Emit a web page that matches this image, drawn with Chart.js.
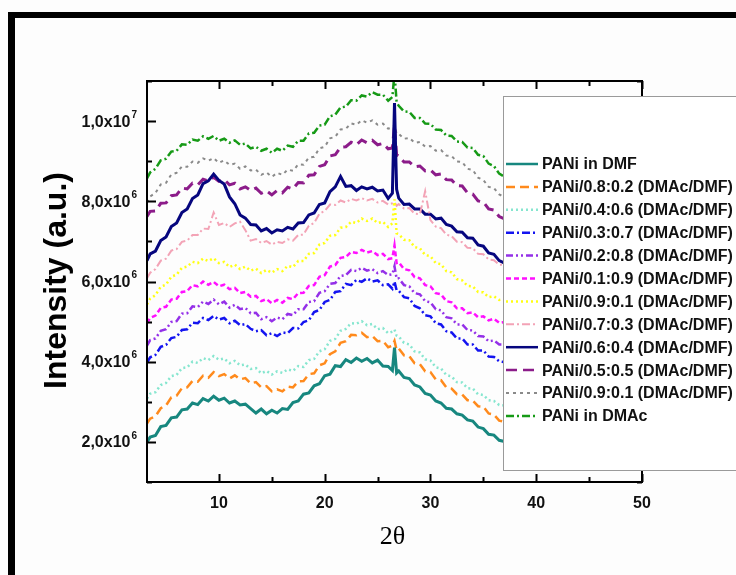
<!DOCTYPE html>
<html>
<head>
<meta charset="utf-8">
<script src="https://cdn.jsdelivr.net/npm/chart.js@4.4.1/dist/chart.umd.min.js"></script>
<style>
  html, body { margin: 0; padding: 0; background: #fff; }
  #c { display: block; }
</style>
</head>
<body>
<canvas id="c" width="736" height="575"></canvas>
<script>
// Diffraction angle 2θ (degrees)
const twoTheta = [
  3.2, 3.5, 4, 4.5, 5, 5.5, 6, 6.5, 7, 7.5,
  8, 8.5, 9, 9.5, 10, 10.5, 11, 11.5, 12, 12.5,
  13, 13.5, 14, 14.5, 15, 15.5, 16, 16.5, 17, 17.5,
  18, 18.5, 19, 19.5, 20, 20.5, 21, 21.5, 22, 22.5,
  23, 23.5, 24, 24.5, 25, 25.5, 26, 26.4, 26.6, 26.8,
  27, 27.5, 28, 28.5, 29, 29.5, 30, 30.5, 31, 31.5,
  32, 32.5, 33, 33.5, 34, 34.5, 35, 35.5, 36, 36.5,
  37
];

// Intensities, in units of 10^6 a.u.
const panDMF = [
  2.00, 2.12, 2.16, 2.38, 2.41, 2.60, 2.62, 2.80, 2.82, 2.97,
  2.93, 3.08, 3.02, 3.14, 3.04, 3.09, 2.97, 3.02, 2.92, 2.94,
  2.83, 2.72, 2.82, 2.70, 2.79, 2.72, 2.83, 2.81, 2.98, 3.02,
  3.19, 3.22, 3.40, 3.45, 3.65, 3.69, 3.90, 3.88, 4.05, 3.98,
  4.09, 4.01, 4.08, 3.97, 4.04, 3.89, 3.88, 3.78, 4.35, 3.72,
  3.77, 3.61, 3.58, 3.42, 3.37, 3.21, 3.17, 3.02, 2.97, 2.84,
  2.82, 2.70, 2.67, 2.55, 2.52, 2.37, 2.33, 2.19, 2.17, 2.04,
  2.01
];
const pan0802 = [
  2.46, 2.58, 2.64, 2.84, 2.91, 3.11, 3.15, 3.34, 3.36, 3.52,
  3.50, 3.65, 3.60, 3.74, 3.64, 3.69, 3.58, 3.66, 3.56, 3.59,
  3.46, 3.49, 3.36, 3.39, 3.26, 3.31, 3.26, 3.38, 3.36, 3.51,
  3.52, 3.69, 3.71, 3.91, 3.96, 4.19, 4.26, 4.47, 4.51, 4.67,
  4.66, 4.72, 4.61, 4.64, 4.51, 4.52, 4.36, 4.40, 4.52, 4.29,
  4.33, 4.16, 4.14, 3.96, 3.94, 3.76, 3.74, 3.56, 3.54, 3.36,
  3.33, 3.19, 3.18, 3.04, 3.03, 2.89, 2.88, 2.71, 2.68, 2.53,
  2.50
];
const pan0406 = [
  3.08, 3.20, 3.24, 3.42, 3.47, 3.64, 3.67, 3.84, 3.86, 4.00,
  3.97, 4.09, 4.04, 4.14, 4.05, 4.08, 3.96, 4.02, 3.91, 3.93,
  3.82, 3.84, 3.71, 3.77, 3.68, 3.76, 3.72, 3.81, 3.77, 3.89,
  3.87, 4.04, 4.07, 4.26, 4.31, 4.52, 4.57, 4.77, 4.82, 4.96,
  4.95, 5.01, 4.91, 4.94, 4.81, 4.84, 4.71, 4.75, 4.80, 4.65,
  4.63, 4.47, 4.43, 4.26, 4.23, 4.06, 4.03, 3.86, 3.83, 3.67,
  3.63, 3.49, 3.48, 3.34, 3.33, 3.19, 3.17, 3.04, 3.02, 2.92,
  2.91
];
const pan0307 = [
  3.98, 4.11, 4.17, 4.37, 4.42, 4.59, 4.62, 4.79, 4.81, 4.97,
  4.96, 5.09, 5.04, 5.14, 5.05, 5.09, 4.96, 5.02, 4.91, 4.94,
  4.82, 4.76, 4.79, 4.66, 4.71, 4.64, 4.73, 4.71, 4.84, 4.83,
  4.99, 5.03, 5.24, 5.29, 5.49, 5.54, 5.74, 5.76, 5.94, 5.91,
  6.04, 5.99, 6.08, 6.00, 6.03, 5.91, 5.93, 5.82, 6.00, 5.78,
  5.77, 5.61, 5.58, 5.39, 5.33, 5.16, 5.13, 4.96, 4.93, 4.76,
  4.73, 4.58, 4.58, 4.43, 4.43, 4.28, 4.28, 4.13, 4.12, 4.01,
  3.99
];
const pan0208 = [
  4.40, 4.54, 4.58, 4.77, 4.81, 4.99, 5.01, 5.20, 5.21, 5.38,
  5.36, 5.50, 5.44, 5.55, 5.43, 5.50, 5.35, 5.42, 5.31, 5.34,
  5.21, 5.22, 5.06, 5.11, 5.01, 5.10, 5.06, 5.19, 5.16, 5.31,
  5.31, 5.49, 5.51, 5.72, 5.76, 5.94, 5.96, 6.14, 6.16, 6.29,
  6.26, 6.34, 6.27, 6.31, 6.21, 6.26, 6.16, 6.18, 6.38, 6.07,
  6.08, 5.91, 5.88, 5.71, 5.68, 5.51, 5.48, 5.31, 5.28, 5.11,
  5.08, 4.93, 4.93, 4.79, 4.78, 4.64, 4.63, 4.51, 4.53, 4.43,
  4.43
];
const pan0109 = [
  4.96, 5.09, 5.15, 5.34, 5.37, 5.55, 5.57, 5.74, 5.76, 5.91,
  5.88, 6.00, 5.92, 5.99, 5.88, 5.92, 5.81, 5.84, 5.71, 5.74,
  5.62, 5.64, 5.51, 5.56, 5.46, 5.54, 5.47, 5.59, 5.56, 5.71,
  5.72, 5.89, 5.91, 6.12, 6.16, 6.37, 6.41, 6.59, 6.61, 6.74,
  6.71, 6.79, 6.72, 6.76, 6.66, 6.69, 6.56, 6.58, 6.90, 6.46,
  6.48, 6.31, 6.28, 6.11, 6.08, 5.91, 5.88, 5.71, 5.68, 5.51,
  5.48, 5.33, 5.33, 5.21, 5.23, 5.11, 5.13, 5.03, 5.07, 4.97,
  4.99
];
const pan0901a = [
  5.43, 5.57, 5.66, 5.87, 5.92, 6.12, 6.17, 6.34, 6.37, 6.49,
  6.46, 6.57, 6.51, 6.58, 6.46, 6.49, 6.36, 6.42, 6.31, 6.37,
  6.27, 6.32, 6.21, 6.29, 6.22, 6.31, 6.26, 6.39, 6.36, 6.51,
  6.51, 6.69, 6.71, 6.92, 6.96, 7.14, 7.16, 7.34, 7.36, 7.49,
  7.46, 7.57, 7.51, 7.57, 7.46, 7.49, 7.36, 7.45, 8.05, 7.20,
  7.18, 7.04, 7.03, 6.86, 6.83, 6.66, 6.63, 6.46, 6.43, 6.26,
  6.23, 6.06, 6.03, 5.89, 5.88, 5.74, 5.73, 5.61, 5.63, 5.54,
  5.56
];
const pan0703 = [
  6.08, 6.22, 6.31, 6.52, 6.57, 6.77, 6.81, 6.99, 7.02, 7.16,
  7.16, 7.32, 7.31, 7.72, 7.41, 7.46, 7.36, 7.45, 7.49, 7.28,
  7.02, 7.06, 6.96, 7.01, 6.92, 6.99, 6.96, 7.05, 7.02, 7.16,
  7.17, 7.39, 7.46, 7.69, 7.76, 7.92, 7.91, 8.02, 7.97, 8.06,
  8.02, 8.08, 8.02, 8.06, 7.97, 8.01, 7.92, 7.95, 7.98, 7.89,
  7.93, 7.82, 7.83, 7.69, 7.68, 8.25, 7.53, 7.37, 7.33, 7.17,
  7.13, 6.99, 6.98, 6.84, 6.83, 6.69, 6.68, 6.55, 6.53, 6.42,
  6.41
];
const pan0604 = [
  6.52, 6.69, 6.76, 7.02, 7.11, 7.37, 7.46, 7.72, 7.81, 8.07,
  8.16, 8.44, 8.51, 8.68, 8.52, 8.43, 8.11, 7.94, 7.66, 7.58,
  7.42, 7.41, 7.26, 7.32, 7.21, 7.29, 7.26, 7.35, 7.31, 7.46,
  7.47, 7.66, 7.71, 7.92, 7.96, 8.24, 8.36, 8.62, 8.37, 8.39,
  8.27, 8.36, 8.31, 8.35, 8.26, 8.28, 8.07, 8.20, 10.45, 8.30,
  8.08, 7.92, 7.93, 7.81, 7.81, 7.68, 7.68, 7.56, 7.58, 7.42,
  7.38, 7.24, 7.23, 7.09, 7.08, 6.91, 6.88, 6.71, 6.68, 6.52,
  6.46
];
const pan0505 = [
  7.62, 7.75, 7.76, 7.95, 7.96, 8.14, 8.16, 8.33, 8.31, 8.45,
  8.41, 8.55, 8.51, 8.60, 8.50, 8.54, 8.41, 8.45, 8.31, 8.36,
  8.27, 8.33, 8.20, 8.26, 8.16, 8.27, 8.21, 8.35, 8.31, 8.47,
  8.46, 8.65, 8.66, 8.87, 8.91, 9.13, 9.16, 9.35, 9.36, 9.47,
  9.41, 9.53, 9.46, 9.52, 9.41, 9.44, 9.31, 9.33, 9.90, 9.16,
  9.13, 8.98, 8.98, 8.86, 8.88, 8.76, 8.78, 8.66, 8.68, 8.54,
  8.53, 8.39, 8.38, 8.21, 8.18, 8.01, 7.98, 7.81, 7.78, 7.62,
  7.56
];
const pan0901b = [
  7.97, 8.12, 8.21, 8.42, 8.46, 8.67, 8.71, 8.87, 8.86, 8.99,
  8.96, 9.07, 9.01, 9.08, 8.96, 9.02, 8.91, 8.94, 8.81, 8.87,
  8.77, 8.79, 8.66, 8.72, 8.61, 8.71, 8.66, 8.79, 8.76, 8.92,
  8.91, 9.09, 9.11, 9.32, 9.36, 9.57, 9.61, 9.79, 9.81, 9.94,
  9.91, 10.02, 9.96, 10.02, 9.91, 9.94, 9.81, 9.84, 9.90, 9.68,
  9.68, 9.56, 9.58, 9.46, 9.48, 9.36, 9.38, 9.26, 9.28, 9.14,
  9.13, 8.99, 8.98, 8.81, 8.78, 8.59, 8.53, 8.36, 8.33, 8.17,
  8.11
];
const panDMAc = [
  8.57, 8.72, 8.81, 9.02, 9.06, 9.24, 9.26, 9.42, 9.41, 9.54,
  9.51, 9.62, 9.56, 9.63, 9.51, 9.56, 9.46, 9.52, 9.41, 9.44,
  9.32, 9.36, 9.26, 9.31, 9.21, 9.31, 9.26, 9.39, 9.36, 9.51,
  9.51, 9.69, 9.71, 9.89, 9.91, 10.12, 10.16, 10.34, 10.36, 10.52,
  10.51, 10.64, 10.61, 10.72, 10.66, 10.66, 10.51, 10.60, 11.20, 10.47,
  10.38, 10.24, 10.23, 10.08, 10.08, 9.94, 9.93, 9.79, 9.78, 9.64,
  9.63, 9.49, 9.48, 9.34, 9.33, 9.16, 9.13, 8.94, 8.88, 8.69,
  8.61
];

const seriesLabels = [
  'PANi in DMF',
  'PANi/0.8:0.2 (DMAc/DMF)',
  'PANi/0.4:0.6 (DMAc/DMF)',
  'PANi/0.3:0.7 (DMAc/DMF)',
  'PANi/0.2:0.8 (DMAc/DMF)',
  'PANi/0.1:0.9 (DMAc/DMF)',
  'PANi/0.9:0.1 (DMAc/DMF)',
  'PANi/0.7:0.3 (DMAc/DMF)',
  'PANi/0.6:0.4 (DMAc/DMF)',
  'PANi/0.5:0.5 (DMAc/DMF)',
  'PANi/0.9:0.1 (DMAc/DMF)',
  'PANi in DMAc'
];
const seriesValues = [panDMF, pan0802, pan0406, pan0307, pan0208, pan0109,
                      pan0901a, pan0703, pan0604, pan0505, pan0901b, panDMAc];

// Axis ranges and labelled ticks
const xRange = [3.2, 50];
const yRange = [1e6, 1.1e7];
const xLabelTicks = [10, 20, 30, 40, 50];
const yLabelTicks = [2e6, 4e6, 6e6, 8e6, 1e7];

// Line appearance for each sample
const lineStyles = [
  { color: '#17877f', width: 3,   dash: [] },
  { color: '#ff8a1c', width: 2.5, dash: [9, 5] },
  { color: '#86e6cf', width: 2.5, dash: [2, 3] },
  { color: '#1414f0', width: 2.5, dash: [8, 3, 2, 3] },
  { color: '#9430e8', width: 2.5, dash: [7, 3, 2, 3, 2, 3] },
  { color: '#ff10ff', width: 2.5, dash: [5, 3] },
  { color: '#ffff14', width: 2.5, dash: [2, 3] },
  { color: '#f3a3b6', width: 2,   dash: [8, 3, 2, 3] },
  { color: '#06067e', width: 3,   dash: [] },
  { color: '#8c1c8a', width: 3,   dash: [11, 6] },
  { color: '#8a8a8a', width: 2,   dash: [3, 4] },
  { color: '#169a16', width: 2.5, dash: [8, 3, 2, 3] }
];

const datasets = seriesValues.map((vals, i) => ({
  label: seriesLabels[i],
  data: vals.map((v, k) => ({ x: twoTheta[k], y: v * 1e6 })),
  borderColor: lineStyles[i].color,
  backgroundColor: lineStyles[i].color,
  borderWidth: lineStyles[i].width,
  borderDash: lineStyles[i].dash,
  pointRadius: 0,
  tension: 0,
  fill: false
}));

const SANS = '"Liberation Sans", Arial, sans-serif';

// Frame, axes box, inward ticks, tick labels, axis titles and the legend box
const decor = {
  id: 'decor',
  beforeDraw(chart) {
    const ctx = chart.ctx;
    ctx.save();
    ctx.fillStyle = '#fdfdfd';
    ctx.fillRect(0, 0, chart.width, chart.height);
    ctx.restore();
  },
  afterDatasetsDraw(chart) {
    const { ctx, chartArea: a, scales: { x, y } } = chart;
    ctx.save();
    ctx.strokeStyle = '#000';
    ctx.lineWidth = 2;
    ctx.strokeRect(a.left, a.top, a.right - a.left, a.bottom - a.top);

    // x ticks, bottom and top
    ctx.lineWidth = 2;
    x.ticks.forEach(t => {
      if (Math.abs(t.value % 5) > 1e-9) return;
      const px = Math.round(x.getPixelForValue(t.value)) + 0.5;
      const major = Math.abs(t.value % 10) < 1e-9;
      const len = major ? 8 : 5;
      ctx.beginPath();
      ctx.moveTo(px, a.bottom); ctx.lineTo(px, a.bottom - len);
      ctx.moveTo(px, a.top); ctx.lineTo(px, a.top + len);
      ctx.stroke();
    });
    // y ticks, left and right
    y.ticks.forEach(t => {
      const m = Math.round(t.value / 1e6);
      if (Math.abs(t.value / 1e6 - m) > 1e-6) return;
      const py = Math.round(y.getPixelForValue(t.value)) + 0.5;
      const len = m % 2 === 0 ? 9 : 5;
      ctx.beginPath();
      ctx.moveTo(a.left, py); ctx.lineTo(a.left + len, py);
      ctx.moveTo(a.right, py); ctx.lineTo(a.right - len, py);
      ctx.stroke();
    });

    // x tick labels
    ctx.fillStyle = '#111';
    ctx.font = 'bold 16px ' + SANS;
    ctx.textAlign = 'center';
    ctx.textBaseline = 'middle';
    xLabelTicks.forEach(v => {
      ctx.fillText(String(v), x.getPixelForValue(v), a.bottom + 22);
    });

    // y tick labels: mantissa with a raised exponent
    yLabelTicks.forEach(v => {
      const exp = Math.floor(Math.log10(v) + 1e-9);
      const mant = (v / Math.pow(10, exp)).toFixed(1).replace('.', ',');
      const main = mant + 'x10';
      const py = y.getPixelForValue(v);
      ctx.font = 'bold 10px ' + SANS;
      const we = ctx.measureText(String(exp)).width;
      ctx.font = 'bold 16px ' + SANS;
      const wm = ctx.measureText(main).width;
      const right = a.left - 10;
      ctx.textAlign = 'left';
      ctx.textBaseline = 'middle';
      ctx.fillText(main, right - we - 1 - wm, py + 1);
      ctx.font = 'bold 10px ' + SANS;
      ctx.fillText(String(exp), right - we, py - 6);
    });

    // axis titles
    ctx.fillStyle = '#000';
    ctx.save();
    ctx.translate(57, (a.top + a.bottom) / 2 - 1);
    ctx.rotate(-Math.PI / 2);
    ctx.font = 'bold 32px ' + SANS;
    ctx.textAlign = 'center';
    ctx.textBaseline = 'middle';
    ctx.fillText('Intensity (a.u.)', 0, 0);
    ctx.restore();

    ctx.font = '26px "Liberation Serif", "Times New Roman", serif';
    ctx.textAlign = 'center';
    ctx.textBaseline = 'middle';
    ctx.fillText('2\u03B8', (a.left + a.right) / 2 - 2, a.bottom + 55);
    ctx.restore();
  },
  afterDraw(chart) {
    const ctx = chart.ctx;
    ctx.save();
    // legend box
    const bx = 503.5, by = 96.5, bw = 300, bh = 374;
    ctx.fillStyle = '#ffffff';
    ctx.fillRect(bx, by, bw, bh);
    ctx.strokeStyle = '#9a9a9a';
    ctx.lineWidth = 1;
    ctx.strokeRect(bx, by, bw, bh);

    chart.data.datasets.forEach((ds, i) => {
      const ly = 164 + i * 22.9;
      ctx.save();
      ctx.strokeStyle = ds.borderColor;
      ctx.lineWidth = Math.min(ds.borderWidth, 2.5);
      ctx.setLineDash(ds.borderDash || []);
      ctx.beginPath();
      ctx.moveTo(506, ly);
      ctx.lineTo(538, ly);
      ctx.stroke();
      ctx.restore();
      ctx.fillStyle = '#111';
      ctx.font = 'bold 16px ' + SANS;
      ctx.textAlign = 'left';
      ctx.textBaseline = 'middle';
      ctx.fillText(ds.label, 542, ly + 1);
    });

    // outer frame
    ctx.fillStyle = '#000';
    ctx.fillRect(8, 12, chart.width, 6);
    ctx.fillRect(8, 12, 7, chart.height);
    ctx.restore();
  }
};

new Chart(document.getElementById('c'), {
  type: 'line',
  data: { datasets },
  options: {
    responsive: false,
    animation: false,
    devicePixelRatio: 1,
    layout: { padding: { left: 147, right: 94, top: 81, bottom: 93 } },
    plugins: { legend: { display: false }, tooltip: { enabled: false } },
    scales: {
      x: {
        type: 'linear', min: xRange[0], max: xRange[1],
        ticks: { display: false, stepSize: 5 },
        grid: { display: false, drawTicks: false },
        border: { display: false },
        afterFit: s => { s.height = 0; }
      },
      y: {
        type: 'linear', min: yRange[0], max: yRange[1],
        ticks: { display: false, stepSize: 1e6 },
        grid: { display: false, drawTicks: false },
        border: { display: false },
        afterFit: s => { s.width = 0; }
      }
    }
  },
  plugins: [decor]
});
</script>
</body>
</html>
